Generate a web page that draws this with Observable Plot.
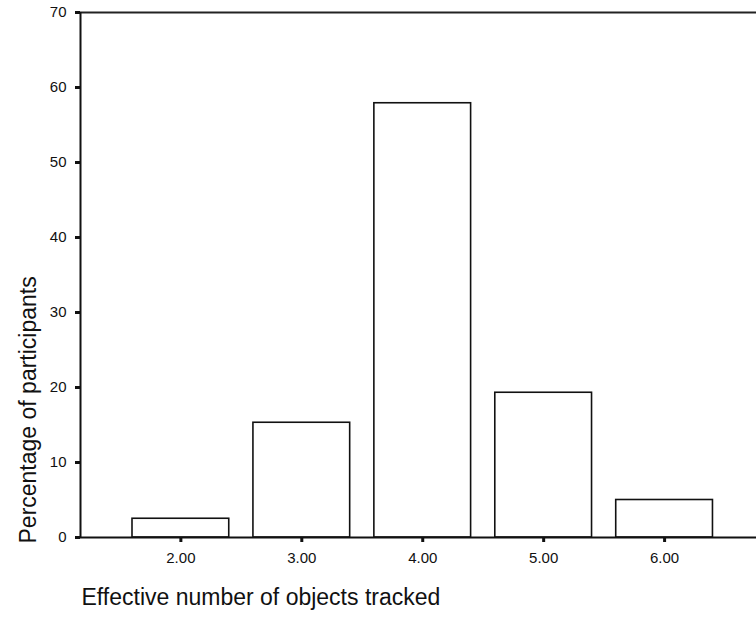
<!DOCTYPE html>
<html>
<head>
<meta charset="utf-8">
<script src="https://cdn.jsdelivr.net/npm/d3@7"></script>
<script src="https://cdn.jsdelivr.net/npm/@observablehq/plot@0.6"></script>
<style>
  html, body { margin: 0; padding: 0; background: #fff; }
  #chart { width: 756px; height: 631px; overflow: hidden; }
  svg { font-family: "Liberation Sans", Arial, Helvetica, sans-serif; }
</style>
</head>
<body>
<div id="chart"></div>
<script>
const categories = [2, 3, 4, 5, 6];
const percentages = [2.5, 15.3, 57.9, 19.3, 5.0];
const yTicks = [0, 10, 20, 30, 40, 50, 60, 70];
const xTitle = "Effective number of objects tracked";
const yTitle = "Percentage of participants";

const data = categories.map((c, i) => ({value: c, pct: percentages[i]}));
const halfWidth = 0.4;

const chart = Plot.plot({
  width: 756,
  height: 631,
  marginTop: 12,
  marginBottom: 94,
  marginLeft: 80,
  marginRight: 0,
  style: {background: "#fff", color: "#111", fontFamily: "'Liberation Sans', Arial, Helvetica, sans-serif"},
  x: {type: "linear", domain: [1.17, 6.76]},
  y: {domain: [0, 70]},
  marks: [
    Plot.rect(data, {
      x1: d => d.value - halfWidth,
      x2: d => d.value + halfWidth,
      y1: 0,
      y2: "pct",
      fill: "#fff",
      stroke: "#111",
      strokeWidth: 1.6
    }),
    Plot.ruleY([0], {stroke: "#111", strokeWidth: 2}),
    Plot.ruleY([70], {stroke: "#222", strokeWidth: 1.8}),
    Plot.ruleX([1.17], {stroke: "#111", strokeWidth: 2}),
    Plot.axisY({
      ticks: yTicks,
      tickSize: 5,
      tickPadding: 9,
      strokeWidth: 3,
      fontSize: 15,
      label: null
    }),
    Plot.axisX({
      ticks: categories,
      tickFormat: d3.format(".2f"),
      tickSize: 5,
      tickPadding: 10,
      strokeWidth: 3,
      fontSize: 15,
      label: null
    }),
    Plot.text([yTitle], {
      frameAnchor: "bottom-left",
      rotate: -90,
      textAnchor: "start",
      lineAnchor: "middle",
      dx: -52,
      dy: 6,
      fontSize: 23,
      fill: "#111",
      letterSpacing: "0.35px"
    }),
    Plot.text([xTitle], {
      frameAnchor: "bottom-left",
      textAnchor: "start",
      lineAnchor: "middle",
      dx: 1,
      dy: 60,
      fontSize: 23,
      fill: "#111"
    })
  ]
});
document.getElementById("chart").appendChild(chart);
</script>
</body>
</html>
